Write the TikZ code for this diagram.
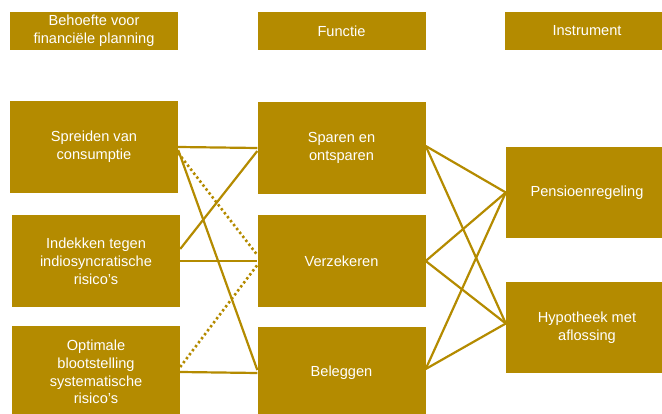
\documentclass[tikz,border=0pt]{standalone}
\usepackage{fontspec}
\setmainfont{Liberation Sans}
\definecolor{plangold}{RGB}{180,139,0}
\tikzset{
  fpbox/.style={rectangle, fill=plangold, text=white, align=center, inner sep=0pt,
    font=\fontsize{14.6pt}{17.8pt}\selectfont, minimum width=168pt, minimum height=92pt},
  fphead/.style={fpbox, minimum height=38pt},
  fpline/.style={plangold, line width=2.2pt},
  fpdots/.style={plangold, line width=2.6pt, dash pattern=on 2.4pt off 2.6pt}
}
\newcommand{\fpheader}[3] {\node at (#1) (#2) [fphead] {#3};}
\newcommand{\fpnode}[3] {\node at (#1) (#2) [fpbox] {#3};}
\newcommand{\fplink}[2] {\draw [fpline] (#1) -- (#2);}
\newcommand{\fpdotlink}[2] {\draw [fpdots] (#1) -- (#2);}

\begin{document}
\begin{tikzpicture}[x=1pt, y=-1pt]
\useasboundingbox (0,0) rectangle (662,414);
\clip (0,0) rectangle (662,414);

\fpheader {94,31} {need} {Behoefte voor\\financiële planning};
\fpheader {341.5,31} {function} {Functie};
\node at (587,31) (instrument) [fphead, minimum width=164pt] {Instrument};

\fpnode {94,147} {spreiden} {Spreiden van\\consumptie};
\fpnode {96,261} {indekken} {Indekken tegen\\indiosyncratische\\risico’s};
\fpnode {96,372} {optimale} {Optimale\\blootstelling\\systematische\\risico’s};

\fpnode {341.5,148} {sparen} {Sparen en\\ontsparen};
\fpnode {341.5,261} {verzekeren} {Verzekeren};
\fpnode {341.5,373} {beleggen} {Beleggen};

\node at (587,192.5) (pensioen) [fpbox, minimum width=162pt, minimum height=91pt] {Pensioenregeling};
\node at (587,327.5) (hypotheek) [fpbox, minimum width=162pt, minimum height=91pt] {Hypotheek met\\aflossing};

\fplink{spreiden.east}{sparen.west};
\fplink{[yshift=-3pt]spreiden.east}{[yshift=3pt]beleggen.west};
\fpdotlink{[yshift=-6pt]spreiden.east}{[yshift=6pt]verzekeren.west};

\fplink{[yshift=12pt]indekken.east}{[yshift=-3pt]sparen.west};
\fplink{indekken.east}{verzekeren.west};

\fpdotlink{[yshift=5pt]optimale.east}{[yshift=-4pt]verzekeren.west};
\fplink{optimale.east}{beleggen.west};

\fplink{[yshift=2pt]sparen.east}{pensioen.west};
\fplink{[yshift=2pt]sparen.east}{[yshift=4pt]hypotheek.west};
\fplink{verzekeren.east}{pensioen.west};
\fplink{verzekeren.east}{[yshift=4pt]hypotheek.west};
\fplink{[yshift=4pt]beleggen.east}{pensioen.west};
\fplink{[yshift=4pt]beleggen.east}{[yshift=4pt]hypotheek.west};
\end{tikzpicture}
\end{document}
